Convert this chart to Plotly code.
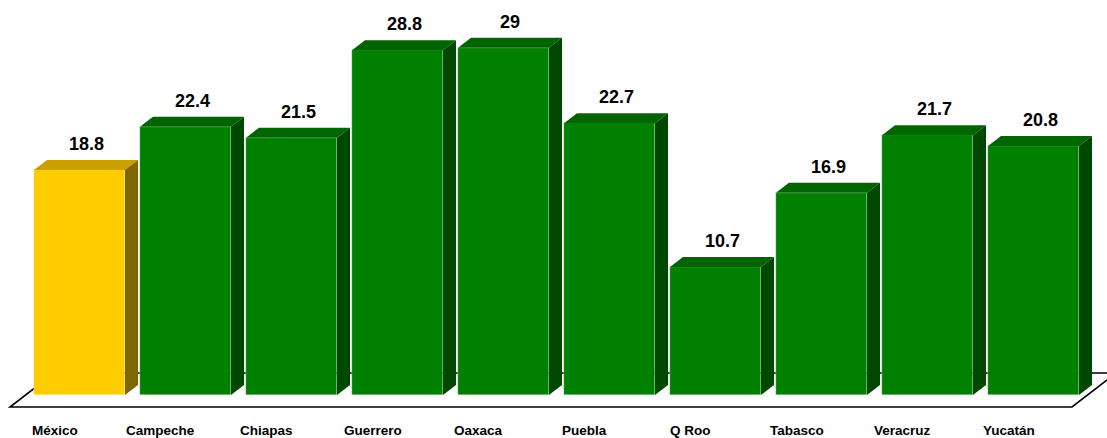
import plotly.graph_objects as go

# ---- data ----
categories = ["México", "Campeche", "Chiapas", "Guerrero", "Oaxaca",
              "Puebla", "Q Roo", "Tabasco", "Veracruz", "Yucatán"]
values = [18.8, 22.4, 21.5, 28.8, 29, 22.7, 10.7, 16.9, 21.7, 20.8]
value_labels = ["18.8", "22.4", "21.5", "28.8", "29", "22.7", "10.7", "16.9", "21.7", "20.8"]

# ---- styling / geometry ----
W, H = 1107, 438
PX_PER_X = 106.0          # pixels per category step
PX_PER_Y = 11.97          # pixels per unit value
X0 = -0.75                # data x at left edge
Y_ZERO_PX = 395           # pixel row of y=0
X1 = X0 + W / PX_PER_X
Y1 = Y_ZERO_PX / PX_PER_Y
Y0 = -(H - Y_ZERO_PX) / PX_PER_Y

BAR_W = 91 / PX_PER_X
DX = 13 / PX_PER_X        # depth offset x
DY = 10 / PX_PER_Y        # depth offset y

front_col = ["#FFCC00"] + ["#008000"] * 9
top_col = ["#C9A000"] + ["#006400"] * 9
side_col = ["#806600"] + ["#004700"] * 9

FONT = "Liberation Sans Narrow, Arial Narrow, Liberation Sans, Arial, sans-serif"

xs = list(range(len(categories)))

fig = go.Figure()
fig.add_trace(go.Bar(
    x=xs, y=values, width=BAR_W, base=0,
    marker=dict(color=front_col, line=dict(color="rgba(255,255,255,0.6)", width=0.5)),
    hoverinfo="skip", showlegend=False,
))

shapes = []
# floor (parallelogram outline, behind bars)
fy_front = -12 / PX_PER_Y
fy_back = 22 / PX_PER_Y
fx_left = (10 - 79.5) / PX_PER_X
fdx = 44 / PX_PER_X
fx_right = (1072 - 79.5) / PX_PER_X
shapes.append(dict(
    type="path", xref="x", yref="y", layer="below",
    path=(f"M {fx_left},{fy_front} L {fx_right},{fy_front} "
          f"L {fx_right + fdx},{fy_back} L {fx_left + fdx},{fy_back} Z"),
    line=dict(color="black", width=1.6), fillcolor="white",
))

for i, v in enumerate(values):
    l = xs[i] - BAR_W / 2
    r = xs[i] + BAR_W / 2
    # top face
    shapes.append(dict(
        type="path", xref="x", yref="y", layer="above",
        path=f"M {l},{v} L {l + DX},{v + DY} L {r + DX},{v + DY} L {r},{v} Z",
        fillcolor=top_col[i], line=dict(width=0),
    ))
    # side face
    shapes.append(dict(
        type="path", xref="x", yref="y", layer="above",
        path=f"M {r},{0} L {r + DX},{DY} L {r + DX},{v + DY} L {r},{v} Z",
        fillcolor=side_col[i], line=dict(width=0),
    ))

annotations = []
for i, v in enumerate(values):
    annotations.append(dict(
        x=xs[i] + DX / 2, y=v + DY, xref="x", yref="y",
        text=f"<b>{value_labels[i]}</b>", showarrow=False,
        yanchor="bottom", yshift=4,
        font=dict(family=FONT, size=18, color="black"),
    ))
    annotations.append(dict(
        x=xs[i], y=(Y_ZERO_PX - 430) / PX_PER_Y, xref="x", yref="y",
        text=f"<b>{categories[i]}</b>", showarrow=False,
        xshift=-25, yanchor="middle",
        font=dict(family=FONT, size=13.5, color="black"),
    ))

fig.update_layout(
    width=W, height=H,
    margin=dict(l=0, r=0, t=0, b=0),
    paper_bgcolor="white", plot_bgcolor="white",
    xaxis=dict(range=[X0, X1], visible=False, fixedrange=True),
    yaxis=dict(range=[Y0, Y1], visible=False, fixedrange=True),
    shapes=shapes, annotations=annotations,
    bargap=0,
)

fig.write_html("out.html")
